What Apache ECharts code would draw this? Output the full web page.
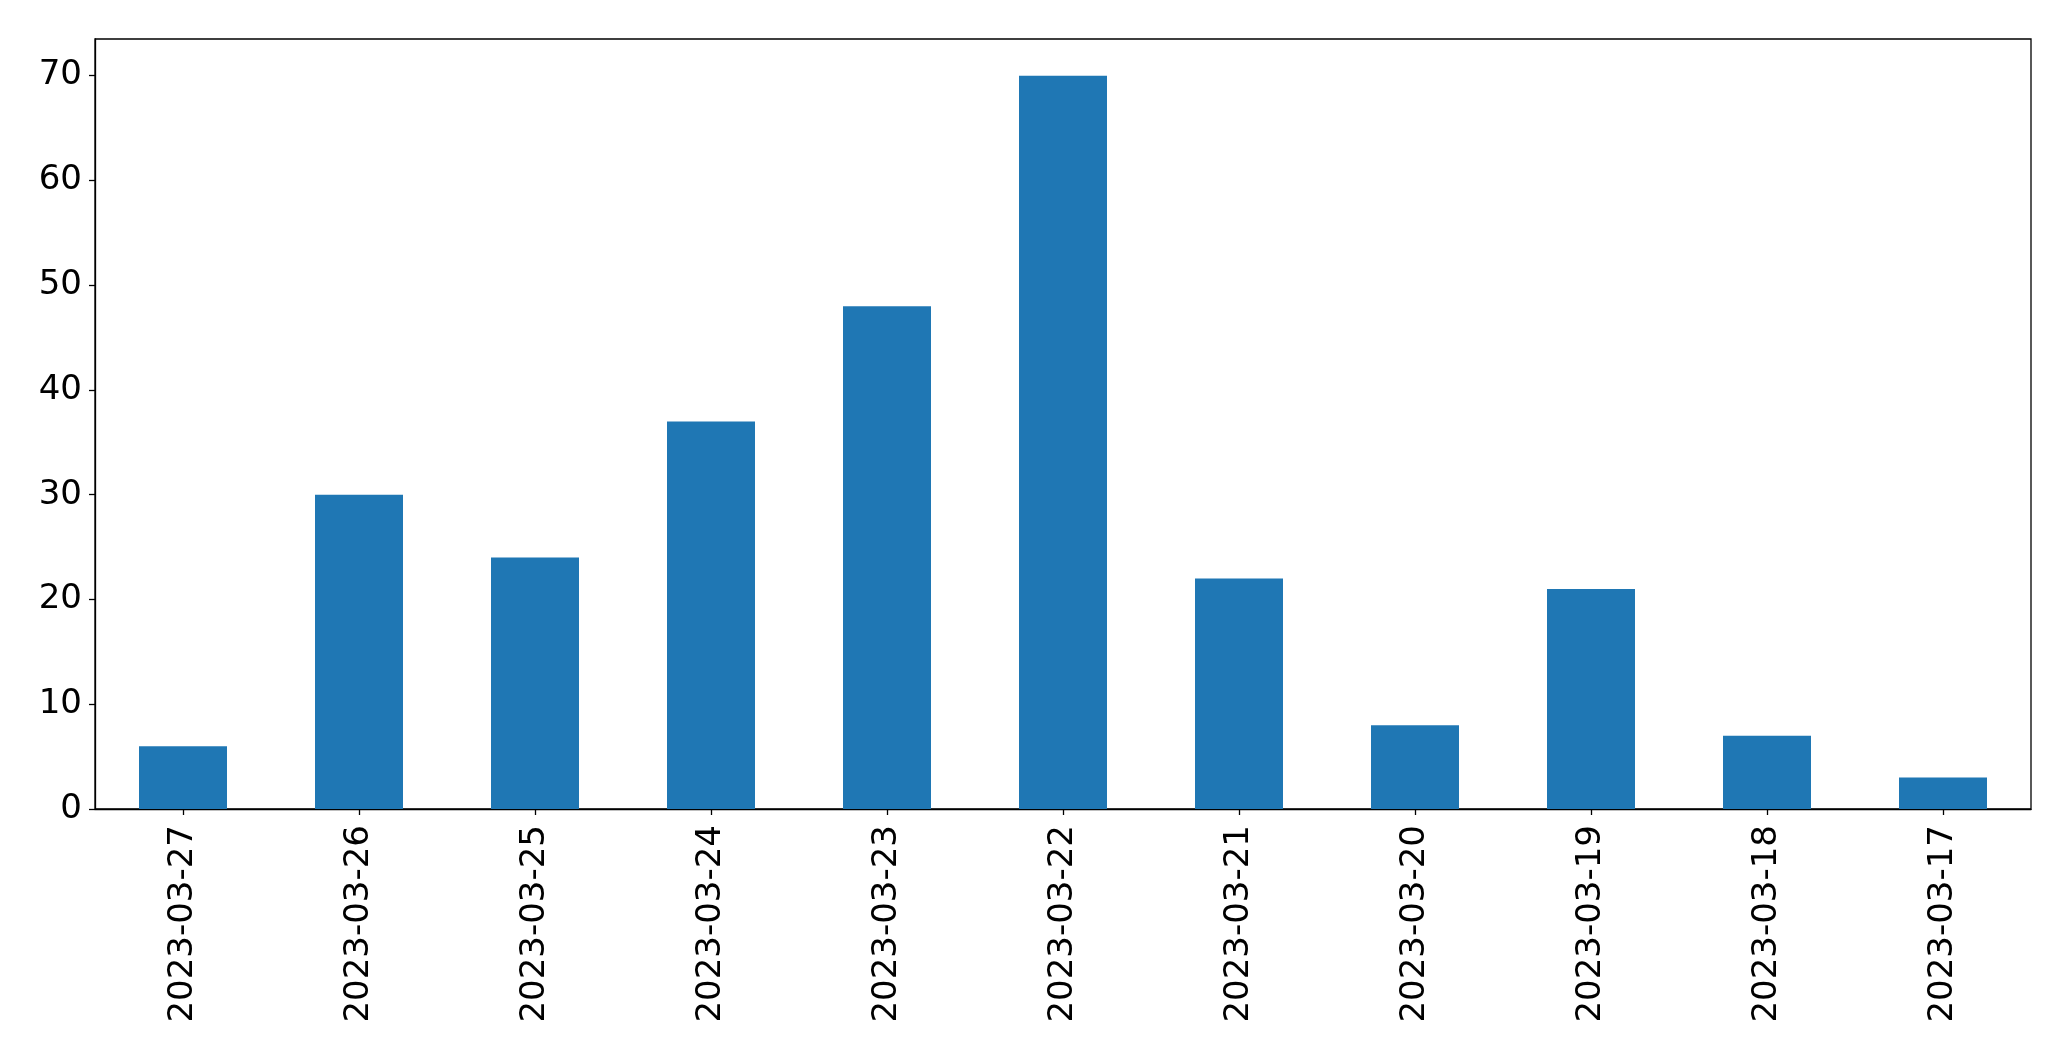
<!DOCTYPE html>
<html>
<head>
<meta charset="utf-8">
<script src="https://cdn.jsdelivr.net/npm/echarts@6/dist/echarts.min.js"></script>
<style>html,body{margin:0;padding:0;background:#fff}#c{width:2071px;height:1061px}</style>
</head>
<body>
<div id="c"></div>
<script>
const categories = ["2023-03-27","2023-03-26","2023-03-25","2023-03-24","2023-03-23","2023-03-22","2023-03-21","2023-03-20","2023-03-19","2023-03-18","2023-03-17"];
const values = [6, 30, 24, 37, 48, 70, 22, 8, 21, 7, 3];
const yTicks = [0, 10, 20, 30, 40, 50, 60, 70];
const yMax = 73.5;

const chart = echarts.init(document.getElementById('c'), null, {renderer: 'canvas'});
const font = '"DejaVu Sans", sans-serif';
chart.setOption({
  animation: false,
  backgroundColor: '#fff',
  grid: {left: 95, right: 40, top: 39, bottom: 252, show: true, borderColor: '#000', borderWidth: 1.3, backgroundColor: 'transparent'},
  xAxis: {
    type: 'category',
    data: categories,
    boundaryGap: true,
    axisLine: {show: true, lineStyle: {color: '#000', width: 1.3}},
    axisTick: {show: true, alignWithLabel: true, length: 6, lineStyle: {color: '#000', width: 1.3}},
    axisLabel: {rotate: 90, interval: 0, color: '#000', fontFamily: font, fontSize: 34, margin: 16}
  },
  yAxis: {
    type: 'value',
    min: 0,
    max: yMax,
    interval: 10,
    splitLine: {show: false},
    axisLine: {show: true, lineStyle: {color: '#000', width: 1.3}},
    axisTick: {show: true, length: 6, lineStyle: {color: '#000', width: 1.3}, customValues: yTicks},
    axisLabel: {color: '#000', fontFamily: font, fontSize: 34, margin: 13, customValues: yTicks}
  },
  series: [{
    type: 'bar',
    data: values,
    barWidth: '50%',
    itemStyle: {color: '#1f77b4'}
  }]
});
</script>
</body>
</html>
